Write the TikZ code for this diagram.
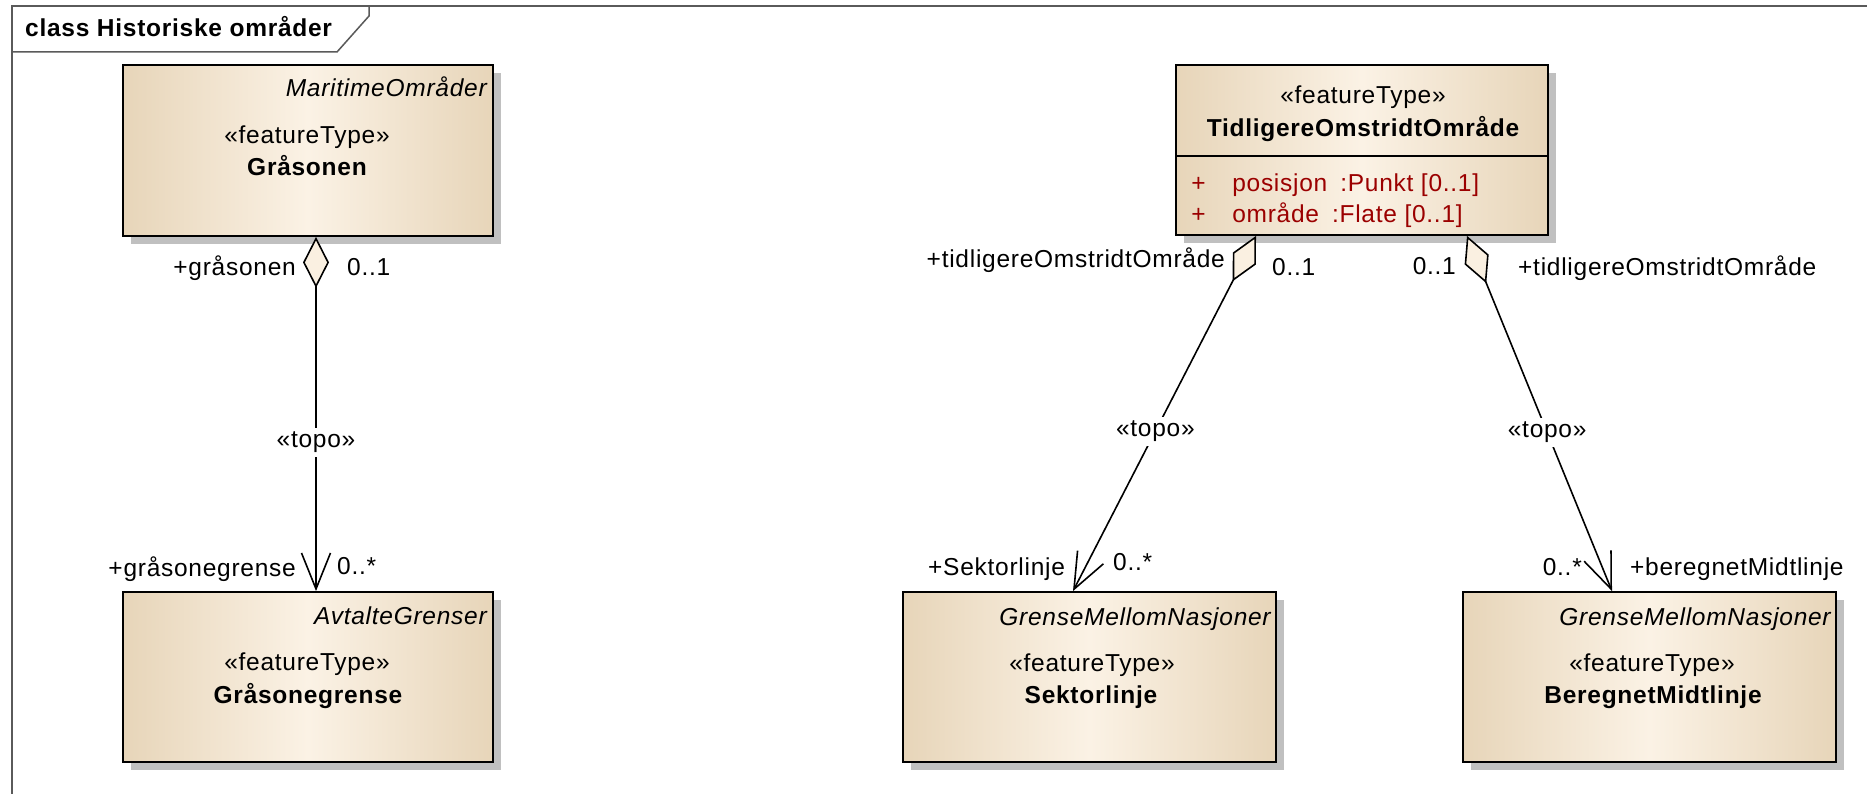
\documentclass[tikz,border=0pt]{standalone}
\usepackage{fontspec}
\setmainfont{Liberation Sans}[LetterSpace=3]
\usetikzlibrary{arrows.meta,calc,shadows}
\definecolor{tanE}{RGB}{231,213,185}
\definecolor{creamM}{RGB}{251,242,229}
\definecolor{diafill}{RGB}{250,240,225}
\definecolor{shadowgray}{RGB}{192,192,192}
\definecolor{attrred}{RGB}{155,0,0}
\definecolor{framegray}{RGB}{90,90,90}
\newcommand\dfont{\fontsize{24.5pt}{28pt}\selectfont}
\begin{document}
\begin{tikzpicture}[x=1pt,y=-1pt,
  classbox/.style={draw=black, line width=1.8pt, rectangle, inner sep=0pt,
    left color=tanE, right color=tanE, middle color=creamM,
    drop shadow={shadow xshift=8pt, shadow yshift=-8pt, fill=shadowgray, opacity=1}},
  lbl/.style={font=\dfont, inner sep=0pt},
  blbl/.style={font=\dfont\bfseries, inner sep=0pt},
  ilbl/.style={font=\dfont\itshape, inner sep=0pt},
  alb/.style={font=\dfont, inner sep=0pt, text=attrred},
  assoc/.style={line width=1.6pt, draw=black, line join=miter,
    {Diamond[length=51pt,width=26pt,fill=diafill]}-{Straight Barb[length=36pt,width=29pt]}},
  topo/.style={font=\dfont, fill=white, inner sep=4pt}]
\useasboundingbox (0,0) rectangle (1867,794);
\fill[white] (0,0) rectangle (1867,794);
% frame
\draw[framegray, line width=1.5pt] (1867,6) -- (12,6) -- (12,794);
\draw[framegray, line width=1.5pt] (12,52) -- (337,52) -- (369,16) -- (369,6);
\node[blbl, anchor=base west] (title) at (25,37) {class Historiske områder};

% boxes
\node[classbox, minimum width=370pt, minimum height=171pt] (gs) at (308,150.5) {};
\node[classbox, minimum width=370pt, minimum height=170pt] (gg) at (308,677) {};
\node[classbox, minimum width=372pt, minimum height=170pt] (tid) at (1362,150) {};
\node[classbox, minimum width=373pt, minimum height=170pt] (sek) at (1089.5,677) {};
\node[classbox, minimum width=373pt, minimum height=170pt] (ber) at (1649.5,677) {};

% Gråsonen
\node[ilbl, anchor=base east] (gsp) at ($(gs.north east)+(-7,32)$) {MaritimeOmråder};
\node[lbl, anchor=base] (gsst) at ($(gs.north)+(-1,79)$) {«featureType»};
\node[blbl, anchor=base] (gsn) at ($(gs.north)+(-1,111)$) {Gråsonen};

% Gråsonegrense
\node[ilbl, anchor=base east] (ggp) at ($(gg.north east)+(-7,33)$) {AvtalteGrenser};
\node[lbl, anchor=base] (ggst) at ($(gg.north)+(-1,79)$) {«featureType»};
\node[blbl, anchor=base] (ggn) at ($(gg.north)+(0,112)$) {Gråsonegrense};

% TidligereOmstridtOmråde
\node[lbl, anchor=base] (tidst) at ($(tid.north)+(1,39)$) {«featureType»};
\node[blbl, anchor=base] (tidn) at ($(tid.north)+(1,72)$) {TidligereOmstridtOmråde};
\draw[line width=1.8pt] ($(tid.north west)+(0,92)$) -- ($(tid.north east)+(0,92)$);
\node[alb, anchor=base west] (tp1) at ($(tid.north west)+(16,127)$) {+};
\node[alb, anchor=base west] (ta1) at ($(tid.north west)+(57,127)$) {posisjon\hspace{13pt}:Punkt [0..1]};
\node[alb, anchor=base west] (tp2) at ($(tid.north west)+(16,158)$) {+};
\node[alb, anchor=base west] (ta2) at ($(tid.north west)+(57,158)$) {område\hspace{13pt}:Flate [0..1]};

% Sektorlinje
\node[ilbl, anchor=base east] (sekp) at ($(sek.north east)+(-6,34)$) {GrenseMellomNasjoner};
\node[lbl, anchor=base] (sekst) at ($(sek.north)+(2.5,80)$) {«featureType»};
\node[blbl, anchor=base] (sekn) at ($(sek.north)+(1.5,112)$) {Sektorlinje};

% BeregnetMidtlinje
\node[ilbl, anchor=base east] (berp) at ($(ber.north east)+(-6,34)$) {GrenseMellomNasjoner};
\node[lbl, anchor=base] (berst) at ($(ber.north)+(2.5,80)$) {«featureType»};
\node[blbl, anchor=base] (bern) at ($(ber.north)+(3.5,112)$) {BeregnetMidtlinje};

% connector end points
\coordinate (c1a) at ($(gs.south)+(8,0)$);
\coordinate (c1b) at ($(gg.north)+(8,0)$);
\coordinate (c2a) at ($(tid.south)+(-106,0)$);
\coordinate (c2b) at ($(sek.north)+(-16.5,0)$);
\coordinate (c3a) at ($(tid.south)+(105,0)$);
\coordinate (c3b) at ($(ber.north)+(-37.5,0)$);

\draw[assoc] (c1a) -- node[topo, pos=0.58] (t1) {«topo»} (c1b);
\draw[assoc] (c2a) -- node[topo, pos=0.55] (t2) {«topo»} (c2b);
\draw[assoc] (c3a) -- node[topo, pos=0.553] (t3) {«topo»} (c3b);

% role labels
\node[lbl, anchor=base east] (r1a) at (296,276) {+gråsonen};
\node[lbl, anchor=base west] (m1a) at (347,276) {0..1};
\node[lbl, anchor=base east] (r1b) at (296,576) {+gråsonegrense};
\node[lbl, anchor=base west] (m1b) at (337,574) {0..*};

\node[lbl, anchor=base east] (r2a) at (1225,268) {+tidligereOmstridtOmråde};
\node[lbl, anchor=base west] (m2a) at (1272,275) {0..1};
\node[lbl, anchor=base west] (r2b) at (928,575) {+Sektorlinje};
\node[lbl, anchor=base west] (m2b) at (1113,570) {0..*};

\node[lbl, anchor=base east] (m3a) at (1456,274) {0..1};
\node[lbl, anchor=base west] (r3a) at (1518,275) {+tidligereOmstridtOmråde};
\node[lbl, anchor=base east] (m3b) at (1582,575) {0..*};
\node[lbl, anchor=base west] (r3b) at (1630,575) {+beregnetMidtlinje};
\end{tikzpicture}
\end{document}
